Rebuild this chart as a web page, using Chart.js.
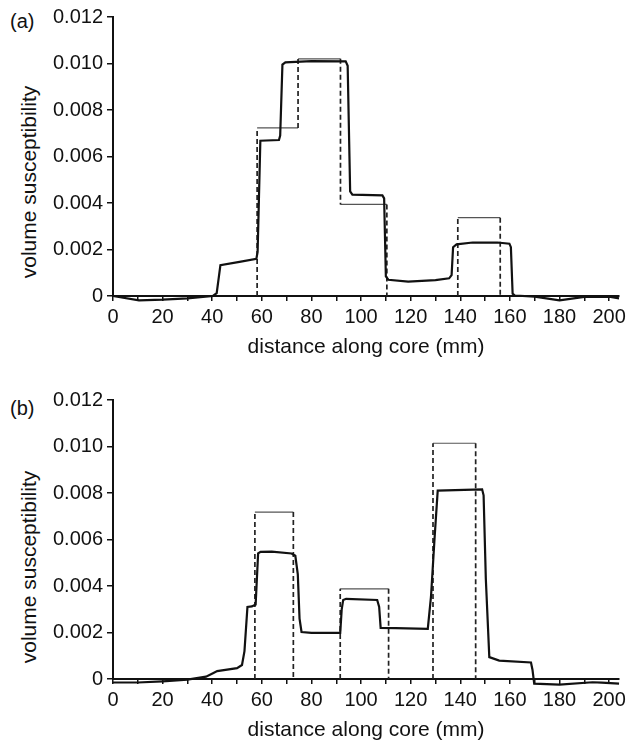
<!DOCTYPE html>
<html>
<head>
<meta charset="utf-8">
<script src="https://cdn.jsdelivr.net/npm/chart.js@4"></script>
<style>
  html, body { margin: 0; padding: 0; background: #fff; }
  body { width: 630px; height: 743px; position: relative; overflow: hidden; font-family: "Liberation Sans", Arial, sans-serif; color: #111; }
  canvas { position: absolute; left: 0; }
  .panel-tag { position: absolute; font-size: 20px; line-height: 20px; }
  .ytitle { position: absolute; width: 300px; text-align: center; font-size: 21px; line-height: 24px; transform: rotate(-90deg); transform-origin: 150px 12px; white-space: nowrap; }
</style>
</head>
<body>
<div class="panel-tag" style="left:10px; top:11px;">(a)</div>
<div class="panel-tag" style="left:10px; top:398px;">(b)</div>
<div class="ytitle" style="left:-121px; top:170px;">volume susceptibility</div>
<div class="ytitle" style="left:-121px; top:555px;">volume susceptibility</div>
<canvas id="chart-a" width="630" height="370" style="top:0px;"></canvas>
<canvas id="chart-b" width="630" height="370" style="top:383px;"></canvas>
<script>
// (a) measured profile
const distA = [0, 10.5, 20, 30, 40.3, 41.8, 43.3, 51, 57.8, 58.3, 59.4, 66.9, 67.4, 68.3, 69.5, 80, 93.8, 94.6, 95.6, 96.5,
  108.6, 109.3, 110, 111, 119, 130, 135.5, 136.5, 137.1, 138.5, 145, 155, 159.8, 160.4, 161.1, 162, 170, 180, 190, 200, 204];
const suscA = [0, -0.00019, -0.00016, -0.0001, 0, 0.00012, 0.00133, 0.00147, 0.0016, 0.0019, 0.00668, 0.00671, 0.0069, 0.00995, 0.01005, 0.0101, 0.01009, 0.0099, 0.0045, 0.00436,
  0.00433, 0.0042, 0.00084, 0.0007, 0.00062, 0.00068, 0.00076, 0.0009, 0.0021, 0.00222, 0.0023, 0.0023, 0.00225, 0.0021, 0.0001, 0.00002, -0.00003, -0.00019, -0.00004, -0.00003, -0.0001];

// (a) model blocks
const modelAFrom = [58.1, 74.6, 91.7, 139.0];
const modelATo = [74.6, 91.7, 110.4, 156.1];
const modelAValue = [0.00723, 0.0102, 0.00394, 0.00337];

// (b) measured profile
const distB = [0, 10, 20, 30, 37.5, 40.3, 42, 50, 52, 53, 54.2, 56, 57.5, 58.5, 59.5, 64, 72, 73.5, 74.5, 75.2, 76, 80,
  91.6, 92.2, 92.8, 94, 106.5, 107.3, 107.9, 114, 126.9, 128.2, 129.6, 130.9, 148.8, 149.4, 150.3, 151.7, 155.7, 168.5, 169.1, 169.8, 180, 193.3, 197, 204];
const suscB = [-0.00015, -0.00015, -0.0001, -0.00003, 0.0001, 0.00025, 0.00034, 0.00047, 0.0006, 0.0012, 0.0031, 0.00312, 0.0032, 0.0054, 0.00547, 0.00548, 0.0054, 0.0053, 0.0045, 0.0026, 0.00202, 0.00198,
  0.00198, 0.003, 0.0034, 0.00345, 0.0034, 0.0031, 0.0022, 0.00219, 0.00216, 0.00355, 0.006, 0.0081, 0.00816, 0.0079, 0.0043, 0.00094, 0.00079, 0.00071, 0.0004, -0.0002, -0.00024, -0.00014, -0.00016, -0.0002];

// (b) model blocks
const modelBFrom = [57.2, 91.6, 129.0];
const modelBTo = [72.7, 111.1, 146.2];
const modelBValue = [0.00718, 0.00388, 0.01014];

const xTicks = { min: 0, max: 204, step: 10, labelEvery: 20 };
const yTicks = { min: 0, max: 0.012, step: 0.002 };

const FONT = '"Liberation Sans", Arial, sans-serif';

const toPoints = (xs, ys) => xs.map((x, i) => ({ x, y: ys[i] }));

// flat tops of the model, broken between blocks
const modelTops = (from, to, val) => {
  const pts = [];
  from.forEach((f, i) => {
    pts.push({ x: f, y: val[i] }, { x: to[i], y: val[i] }, { x: to[i], y: null });
  });
  return pts;
};

// dashed sides of the model, from the neighbour block or from zero
const modelSides = (from, to, val) => {
  const pts = [];
  from.forEach((f, i) => {
    const prev = i > 0 && to[i - 1] === f ? val[i - 1] : 0;
    pts.push({ x: f, y: prev }, { x: f, y: val[i] }, { x: f, y: null });
    const joined = i < from.length - 1 && from[i + 1] === to[i];
    if (!joined) pts.push({ x: to[i], y: val[i] }, { x: to[i], y: 0 }, { x: to[i], y: null });
  });
  return pts;
};

const makeChart = (id, xs, ys, from, to, val) => {
  return new Chart(document.getElementById(id), {
    type: 'line',
    data: {
      datasets: [
        { data: toPoints(xs, ys), borderColor: '#111', borderWidth: 2.2, pointRadius: 0, tension: 0, clip: false },
        { data: modelSides(from, to, val), borderColor: '#222', borderWidth: 1.7, borderDash: [5, 3], pointRadius: 0, spanGaps: false, clip: false },
        { data: modelTops(from, to, val), borderColor: '#555', borderWidth: 1.2, pointRadius: 0, spanGaps: false, clip: false }
      ]
    },
    options: {
      responsive: false,
      animation: false,
      layout: { padding: { top: 17, right: 10, bottom: 10, left: 0 } },
      plugins: { legend: { display: false }, tooltip: { enabled: false } },
      scales: {
        x: {
          type: 'linear',
          min: xTicks.min,
          max: xTicks.max,
          afterFit: (s) => { s.height = 64; },
          grid: { drawOnChartArea: false, drawTicks: true, tickLength: 5, color: '#111', lineWidth: 1.5 },
          border: { color: '#111', width: 2 },
          ticks: {
            stepSize: xTicks.step,
            includeBounds: false,
            autoSkip: false,
            maxRotation: 0,
            padding: 4,
            color: '#111',
            font: { family: FONT, size: 20 },
            callback: (v) => (v % xTicks.labelEvery === 0 ? String(v) : '')
          },
          title: {
            display: true,
            text: 'distance along core (mm)',
            color: '#111',
            font: { family: FONT, size: 21 },
            padding: { top: 0, bottom: 0 }
          }
        },
        y: {
          min: yTicks.min,
          max: yTicks.max,
          afterFit: (s) => { s.width = 113; },
          grid: { drawOnChartArea: false, drawTicks: true, tickLength: 6, color: '#111', lineWidth: 1.5 },
          border: { color: '#111', width: 2 },
          ticks: {
            stepSize: yTicks.step,
            padding: 4,
            color: '#111',
            font: { family: FONT, size: 20 },
            callback: (v) => (Math.abs(v) < 1e-9 ? '0' : v.toFixed(3))
          }
        }
      }
    }
  });
};

makeChart('chart-a', distA, suscA, modelAFrom, modelATo, modelAValue);
makeChart('chart-b', distB, suscB, modelBFrom, modelBTo, modelBValue);
</script>
</body>
</html>
